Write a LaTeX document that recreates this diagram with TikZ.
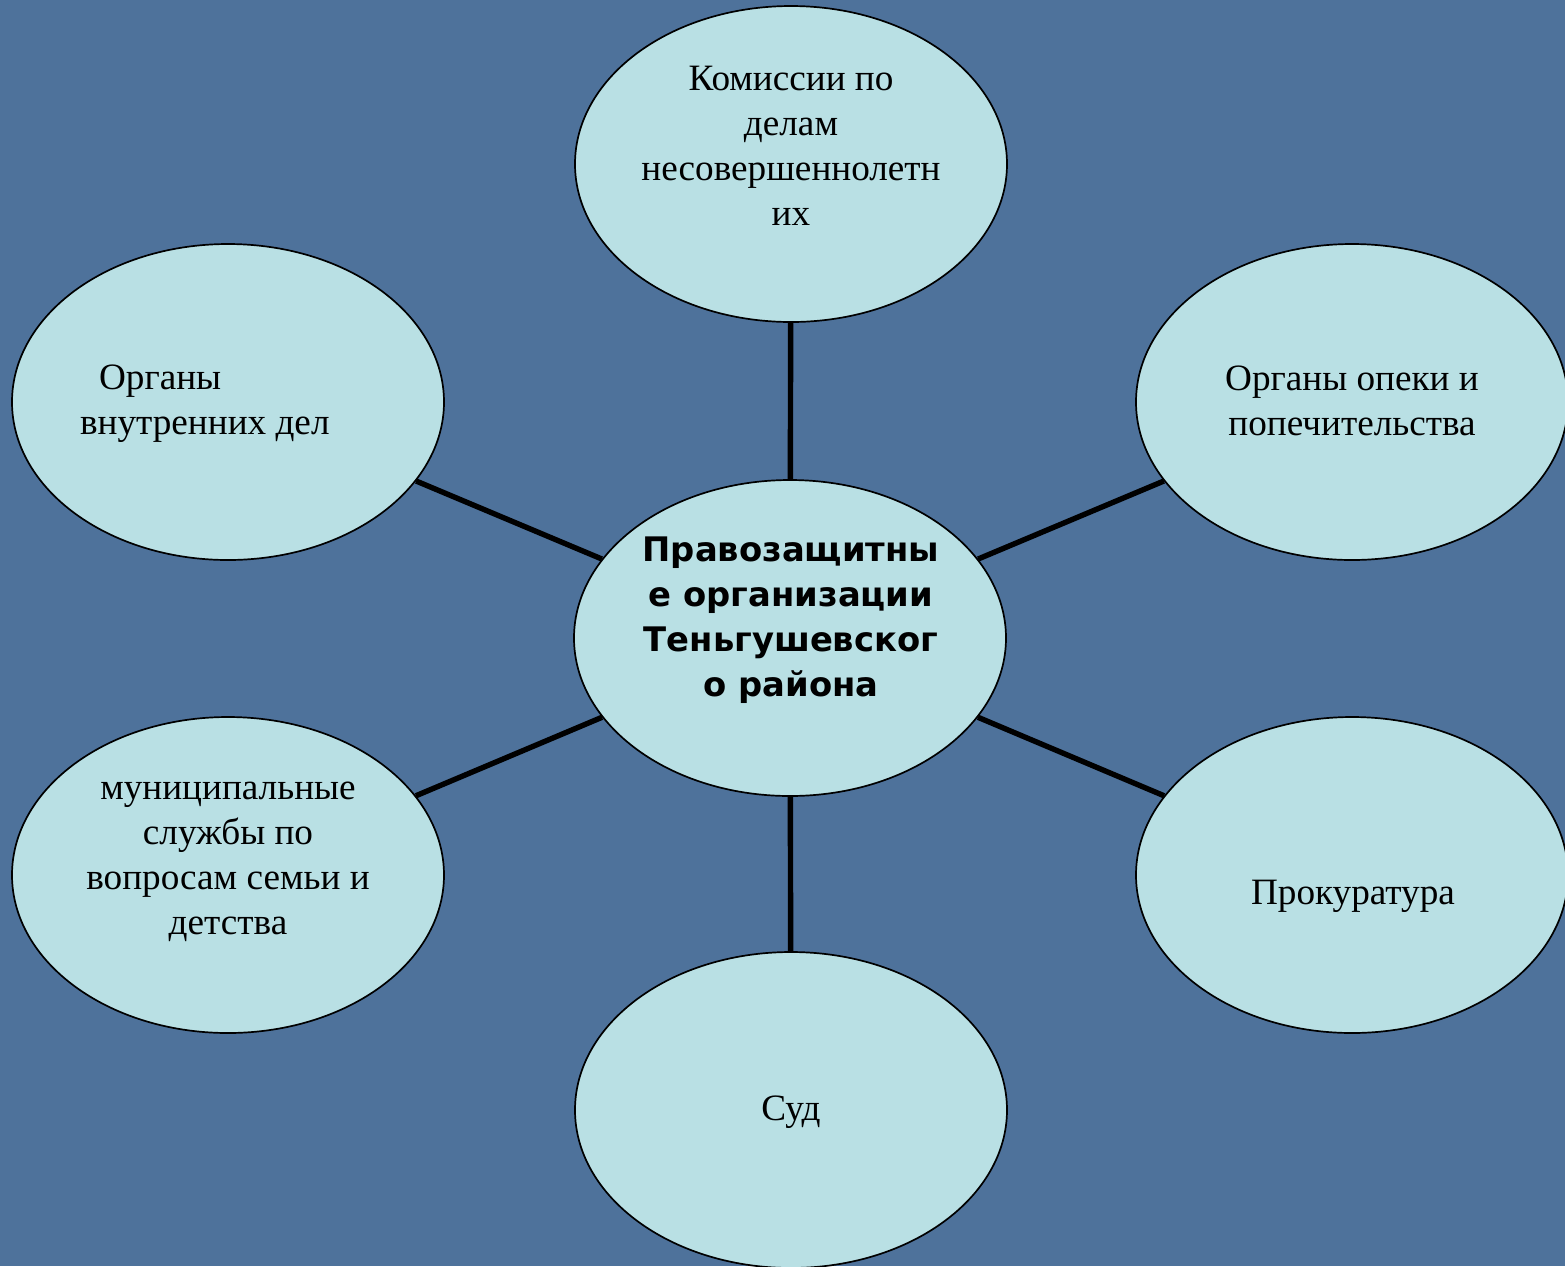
\documentclass[tikz,border=0pt]{standalone}
\usepackage{fontspec}
\setmainfont{Liberation Serif}
\newfontfamily\boldsans{DejaVu Sans}
\usetikzlibrary{shapes.geometric}
\definecolor{slide}{HTML}{4E729B}
\definecolor{oval}{HTML}{B9E0E4}

\begin{document}
\begin{tikzpicture}[x=0.5pt, y=-0.5pt,
    org/.style={ellipse, draw=black, line width=0.85pt, fill=oval, inner sep=0pt,
      minimum width=216pt, minimum height=158pt},
    orgtext/.style={align=center, font=\fontsize{18.6}{22.5}\selectfont},
    link/.style={line width=2.7pt, black}]
  \fill [slide] (0,0) rectangle (1565,1266);
  \useasboundingbox (0,0) rectangle (1565,1266);
  % ovals
  \node [org] (pzo) at (790,638) {};
  \node [org] (kdn) at (791,164) {};
  \node [org] (ovd) at (228,402) {};
  \node [org] (oop) at (1352,402) {};
  \node [org] (msd) at (228,875) {};
  \node [org] (prok) at (1352,875) {};
  \node [org] (sud) at (791,1110) {};
  % texts
  \node [align=center, font=\boldsans\bfseries\fontsize{16.9}{22.5}\selectfont] (pzo-t) at (791,620)
    {Правозащитны\\е организации\\Теньгушевског\\о района};
  \node [orgtext] (kdn-t) at (791,146) {Комиссии по\\делам\\несовершеннолетн\\их};
  \node [orgtext, align=left, anchor=west] (ovd-t) at (73,404) {\hspace*{9.5pt}Органы\\внутренних дел};
  \node [orgtext] (oop-t) at (1352,401) {Органы опеки и\\попечительства};
  \node [orgtext] (msd-t) at (228,862) {муниципальные\\службы по\\вопросам семьи и\\детства};
  \node [orgtext] (prok-t) at (1353,896) {Прокуратура};
  \node [orgtext] (sud-t) at (791,1112) {Суд};
  % links
  \draw [link] (pzo) -- (kdn);
  \draw [link] (pzo) -- (ovd);
  \draw [link] (pzo) -- (oop);
  \draw [link] (pzo) -- (msd);
  \draw [link] (pzo) -- (prok);
  \draw [link] (pzo) -- (sud);
\end{tikzpicture}
\end{document}
